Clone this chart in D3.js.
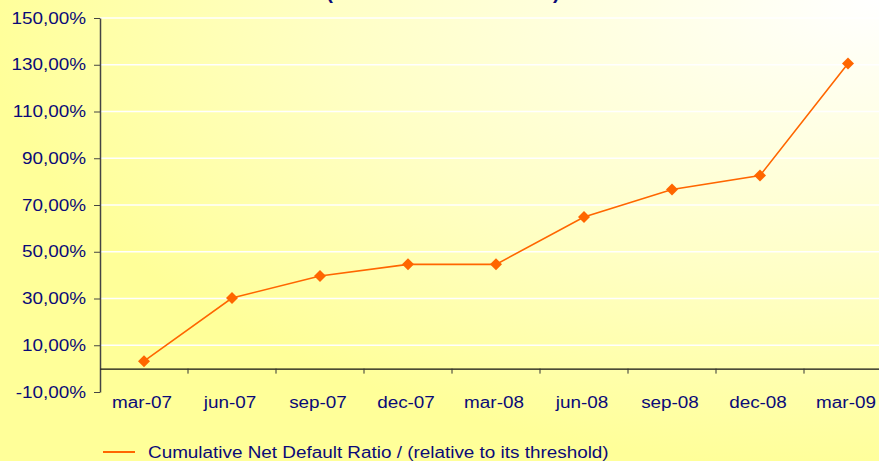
<!DOCTYPE html>
<html>
<head>
<meta charset="utf-8">
<script src="https://cdn.jsdelivr.net/npm/d3@7"></script>
<style>
  body { margin: 0; overflow: hidden; }
  svg { display: block; font-family: Arial, "Liberation Sans", sans-serif; }
</style>
</head>
<body>
<div id="chart"></div>
<script>
var categories = ["mar-07", "jun-07", "sep-07", "dec-07", "mar-08", "jun-08", "sep-08", "dec-08", "mar-09"];
var ratioValues = [3.2, 30.2, 39.6, 44.6, 44.6, 64.9, 76.6, 82.6, 130.5];
var yTicks = [-10, 10, 30, 50, 70, 90, 110, 130, 150];
var seriesName = "Cumulative Net Default Ratio / (relative to its threshold)";
var titleText = "(relative to its threshold)";

var width = 879,
  height = 461,
  plotLeft = 100,
  plotRight = 892,
  plotTop = 18,
  plotBottom = 392,
  stretch = 1.18,
  navy = "#0a0a78",
  orange = "#ff6600";

// the original picture was stretched sideways, so widen the glyphs a bit
function widen(sel) {
  sel.each(function () {
    var len = this.getComputedTextLength();
    d3.select(this)
      .attr("textLength", len * stretch)
      .attr("lengthAdjust", "spacingAndGlyphs");
  });
}

var svg = d3.select("#chart").append("svg")
  .attr("width", width)
  .attr("height", height);

var grad = svg.append("defs").append("radialGradient")
  .attr("id", "bg")
  .attr("cx", "1").attr("cy", "0")
  .attr("fx", "1").attr("fy", "0")
  .attr("r", "1.02");
grad.append("stop").attr("offset", "0").attr("stop-color", "#ffffff");
grad.append("stop").attr("offset", "0.6").attr("stop-color", "#ffffc6");
grad.append("stop").attr("offset", "1").attr("stop-color", "#ffff99");

svg.append("rect")
  .attr("width", width)
  .attr("height", height)
  .attr("fill", "url(#bg)");

var x = d3.scaleBand().domain(categories).range([plotLeft, plotRight]);
var y = d3.scaleLinear().domain([-10, 150]).range([plotBottom, plotTop]);

// title, mostly cut off at the top
svg.append("text")
  .attr("x", 443)
  .attr("y", -1)
  .attr("text-anchor", "middle")
  .attr("font-size", 20)
  .attr("font-weight", "bold")
  .attr("fill", navy)
  .text(titleText);

// gridlines
svg.append("g").selectAll("line")
  .data(yTicks.filter(function (d) { return d !== -10; }))
  .enter().append("line")
  .attr("x1", plotLeft).attr("x2", plotRight)
  .attr("y1", function (d) { return y(d); })
  .attr("y2", function (d) { return y(d); })
  .attr("stroke", "#ffffff")
  .attr("stroke-width", 1.5);

// y axis
var yAxis = svg.append("g")
  .attr("transform", "translate(" + plotLeft + ",0)")
  .call(d3.axisLeft(y).tickValues(yTicks).tickSize(6).tickSizeOuter(0)
    .tickFormat(function (d) { return d.toFixed(2).replace(".", ",") + "%"; }));
yAxis.select(".domain").attr("stroke", "#444").attr("stroke-width", 1.5);
yAxis.selectAll(".tick line").attr("stroke", "#444");
yAxis.selectAll("text")
  .attr("fill", navy)
  .attr("font-size", 16)
  .attr("font-family", "Arial, 'Liberation Sans', sans-serif")
  .attr("x", -14)
  .call(widen);

// x axis at zero
var xAxis = svg.append("g")
  .attr("transform", "translate(0," + y(0) + ")")
  .call(d3.axisBottom(x).tickSize(0).tickSizeOuter(0));
xAxis.select(".domain").attr("stroke", "#111").attr("stroke-width", 1.2);
xAxis.selectAll("text")
  .attr("fill", navy)
  .attr("font-size", 16)
  .attr("font-family", "Arial, 'Liberation Sans', sans-serif")
  .attr("transform", "translate(-2," + (y(-10) - y(0) + 2) + ")")
  .call(widen);

// tick marks between categories
svg.append("g").selectAll("line")
  .data(categories.slice(1))
  .enter().append("line")
  .attr("x1", function (d) { return x(d); })
  .attr("x2", function (d) { return x(d); })
  .attr("y1", y(0))
  .attr("y2", y(0) + 5)
  .attr("stroke", "#333");

// series line
var line = d3.line()
  .x(function (d, i) { return x(categories[i]) + x.bandwidth() / 2; })
  .y(function (d) { return y(d); });

svg.append("path")
  .datum(ratioValues)
  .attr("d", line)
  .attr("fill", "none")
  .attr("stroke", orange)
  .attr("stroke-width", 1.6);

svg.append("g").selectAll("path")
  .data(ratioValues)
  .enter().append("path")
  .attr("d", d3.symbol().type(d3.symbolSquare).size(72))
  .attr("transform", function (d, i) {
    return "translate(" + (x(categories[i]) + x.bandwidth() / 2) + "," + y(d) + ") rotate(45)";
  })
  .attr("fill", orange);

// legend
svg.append("line")
  .attr("x1", 103).attr("x2", 135)
  .attr("y1", 452).attr("y2", 452)
  .attr("stroke", orange)
  .attr("stroke-width", 2);
svg.append("text")
  .attr("x", 148)
  .attr("y", 458)
  .attr("font-size", 16)
  .attr("fill", navy)
  .text(seriesName)
  .call(widen);
</script>
</body>
</html>
